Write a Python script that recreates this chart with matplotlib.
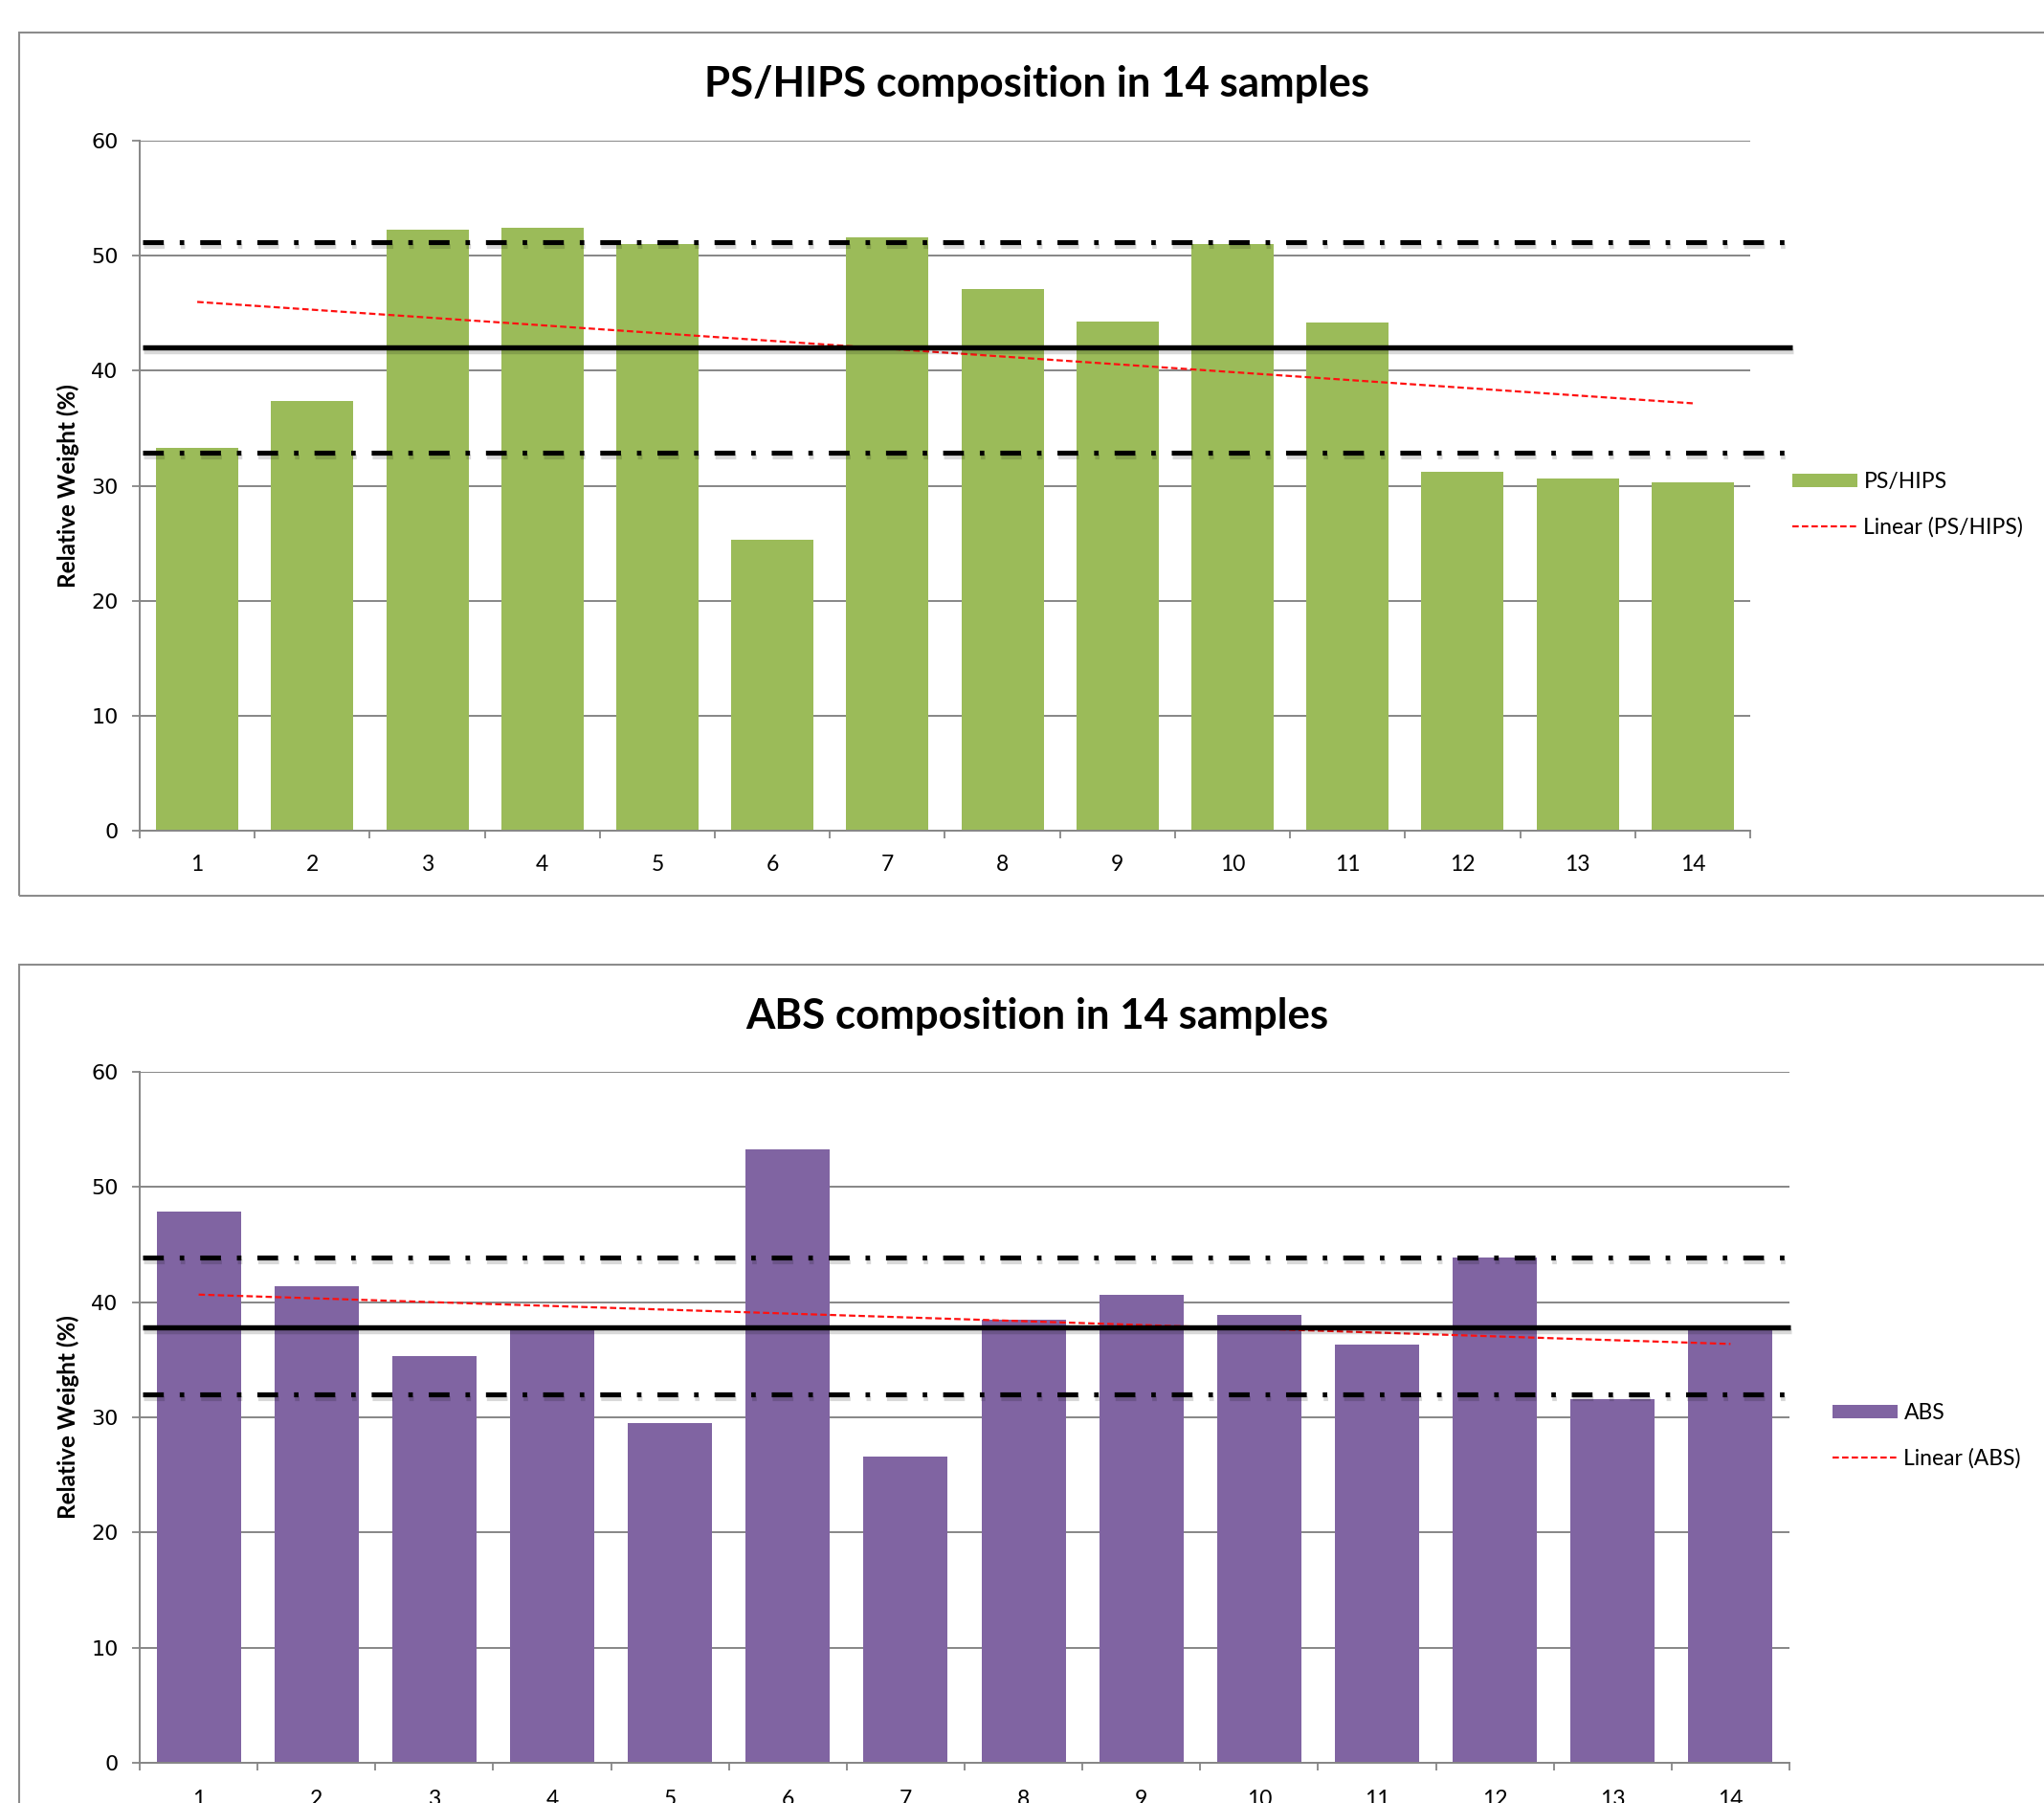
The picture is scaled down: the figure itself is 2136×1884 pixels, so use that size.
import numpy as np
import matplotlib.pyplot as plt
import matplotlib.patheffects as pe
from matplotlib.patches import Rectangle, Patch
from matplotlib.lines import Line2D

plt.rcParams['lines.scale_dashes'] = False

#%% data
samples = np.arange(1, 15)
sample_labels = [str(s) for s in samples]

ps_hips = [33.3, 37.4, 52.3, 52.4, 51.0, 25.3, 51.6, 47.1, 44.3, 51.0, 44.2, 31.2, 30.6, 30.3]
ps_mean = 42.0
ps_limits = [51.2, 32.9]

abs_vals = [47.9, 41.4, 35.3, 37.6, 29.5, 53.3, 26.6, 38.5, 40.6, 38.9, 36.3, 43.9, 31.6, 37.8]
abs_mean = 37.8
abs_limits = [43.9, 32.0]

y_ticks = [0, 10, 20, 30, 40, 50, 60]

#%% layout (pixels of the 2136x1884 output)
W, H = 2136, 1884
GRID = '#868686'
fig = plt.figure(figsize=(W / 100, H / 100), dpi=100)


def px_rect(left, top, right, bottom):
    return [left / W, 1 - bottom / H, (right - left) / W, (bottom - top) / H]


def panel(rect, frame, values, color, name, title, title_y, mean, limits,
          line_end, legend_xy, xpad):
    # chart frame (runs off the right / bottom of the picture)
    fl, ft, fr, fb = frame
    fig.add_artist(Rectangle((fl / W, 1 - fb / H), (fr - fl) / W, (fb - ft) / H,
                             transform=fig.transFigure, fill=False,
                             edgecolor='#8c8c8c', lw=1.5))

    ax = fig.add_axes(px_rect(*rect))
    ax.bar(samples, values, width=0.715, color=color, zorder=2)

    # linear trend line
    coef = np.polyfit(samples, values, 1)
    ax.plot(samples, np.polyval(coef, samples), color='#FF1010', lw=1.6,
            ls=(0, (4.8, 2.4)), zorder=4)

    # mean and limit lines with a soft shadow
    shadow = [pe.SimpleLineShadow(offset=(1, -3), shadow_color='k', alpha=0.15),
              pe.Normal()]
    x0 = (149 - rect[0]) / (rect[2] - rect[0])
    x1 = (line_end - rect[0]) / (rect[2] - rect[0])
    tr = ax.get_yaxis_transform()
    ax.plot([x0, x1], [mean, mean], transform=tr, clip_on=False, color='k',
            lw=3.9, solid_capstyle='butt', zorder=5, path_effects=shadow)
    for v in limits:
        ax.plot([x0, x1], [v, v], transform=tr, clip_on=False, color='k',
                lw=3.7, ls=(0, (15.6, 12.0, 3.4, 12.0)), dash_capstyle='butt',
                zorder=5, path_effects=shadow)

    ax.set_xlim(0.5, 14.5)
    ax.set_ylim(0, 60)
    ax.set_yticks(y_ticks)
    ax.set_xticks(samples, sample_labels)
    ax.set_xticks(np.arange(0.5, 15, 1), minor=True)
    ax.tick_params(axis='x', which='major', length=0, pad=xpad, labelsize=16.5)
    ax.tick_params(axis='x', which='minor', length=5.5, width=1.3, color=GRID)
    ax.tick_params(axis='y', length=6, width=1.3, color=GRID, pad=10, labelsize=16)
    for lab in ax.get_xticklabels():
        lab.set_family('Lato')
    for lab in ax.get_yticklabels():
        lab.set_family('DejaVu Sans')

    ax.yaxis.grid(True, color=GRID, lw=1.4)
    ax.set_axisbelow(True)
    for s in ['top', 'right']:
        ax.spines[s].set_visible(False)
    for s in ['left', 'bottom']:
        ax.spines[s].set_color(GRID)
        ax.spines[s].set_linewidth(1.4)

    fig.text(71 / W, 1 - (rect[1] + rect[3]) / 2 / H, 'Relative Weight (%)',
             rotation=90, ha='center', va='center', fontsize=17.5,
             fontweight='bold', family='Lato')
    fig.text(1084 / W, 1 - title_y / H, title, ha='center', va='center',
             fontsize=31.5, fontweight='bold', family='Lato')

    handles = [Patch(facecolor=color, label=name),
               Line2D([], [], color='#FF1010', lw=1.6, ls=(0, (4.8, 2.4)),
                      label='Linear (%s)' % name)]
    ax.legend(handles=handles, loc='upper left',
              bbox_to_anchor=(legend_xy[0] / W, 1 - legend_xy[1] / H),
              bbox_transform=fig.transFigure, frameon=False, borderpad=0,
              borderaxespad=0, handlelength=2.95, handleheight=0.6,
              handletextpad=0.3, labelspacing=1.15,
              prop={'family': 'Lato', 'size': 16.5})
    return ax


#%% PS/HIPS
panel((146, 147, 1829, 868), (20, 34, 2160, 936), ps_hips, '#9BBB59', 'PS/HIPS',
      'PS/HIPS composition in 14 samples', 88, ps_mean, ps_limits,
      1873, (1873, 493), 18)

#%% ABS
panel((146, 1120, 1870, 1842), (20, 1008, 2160, 1960), abs_vals, '#8064A2', 'ABS',
      'ABS composition in 14 samples', 1062, abs_mean, abs_limits,
      1871, (1915, 1466), 20)

fig.savefig('out.png', dpi=100)
